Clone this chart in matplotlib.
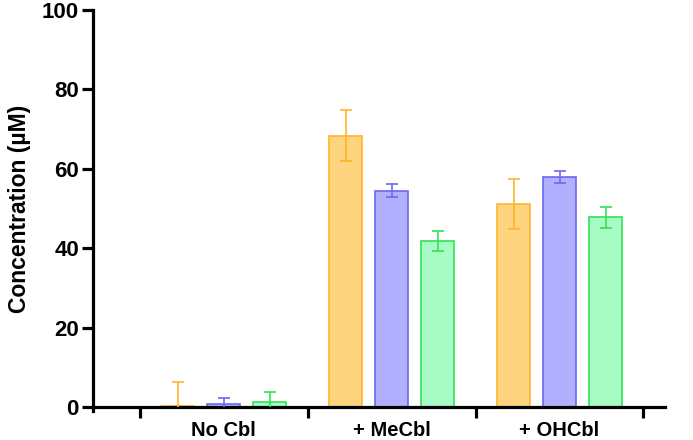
import numpy as np
import matplotlib.pyplot as plt

plt.rcParams['font.family'] = ['Liberation Sans', 'DejaVu Sans']
plt.rcParams['font.weight'] = 'bold'

groups = ['No Cbl', '+ MeCbl', '+ OHCbl']
orange_vals = [0.3, 68.4, 51.2]
orange_err = [6.1, 6.4, 6.3]
blue_vals = [0.85, 54.5, 57.9]
blue_err = [1.5, 1.6, 1.5]
green_vals = [1.35, 41.8, 47.8]
green_err = [2.5, 2.5, 2.7]

series = [
    (orange_vals, orange_err, '#ffd47f', '#ffb429'),
    (blue_vals, blue_err, '#b0b0ff', '#6a6af0'),
    (green_vals, green_err, '#a6fcc4', '#33e055'),
]

fig, ax = plt.subplots(figsize=(6.93, 4.40), dpi=100)
fig.subplots_adjust(left=0.134, right=0.96, top=0.977, bottom=0.075)

x = np.arange(len(groups))
offset = 0.274
width = 0.196
for i, (vals, err, fc, ec) in enumerate(series):
    pos = x + (i - 1) * offset
    ax.bar(pos, vals, width, color=fc, edgecolor=ec, linewidth=1.2, zorder=2)
    ax.errorbar(pos, vals, yerr=err, fmt='none', ecolor=ec, elinewidth=1.2,
                capsize=4, capthick=1.2, zorder=3)

ax.set_xlim(-0.78, 2.63)
ax.set_ylim(0, 100)
ax.set_yticks([0, 20, 40, 60, 80, 100])
ax.set_xticks([-0.5, 0.5, 1.5, 2.5])
ax.set_xticklabels([])
ax.set_xticks(x, minor=True)
ax.set_xticklabels(groups, minor=True)
ax.tick_params(axis='x', which='minor', length=0, pad=10, labelsize=14.5)
ax.tick_params(axis='x', which='major', length=8, width=2.3, direction='out')
ax.tick_params(axis='y', length=8, width=2.3, labelsize=16, pad=2)
ax.set_ylabel('Concentration (µM)', fontsize=16.5, fontweight='bold', labelpad=8)

for s in ['top', 'right']:
    ax.spines[s].set_visible(False)
for s in ['left', 'bottom']:
    ax.spines[s].set_linewidth(2.3)
ax.spines['left'].set_bounds(-1.0, 100)

fig.savefig('out.png', dpi=100)
